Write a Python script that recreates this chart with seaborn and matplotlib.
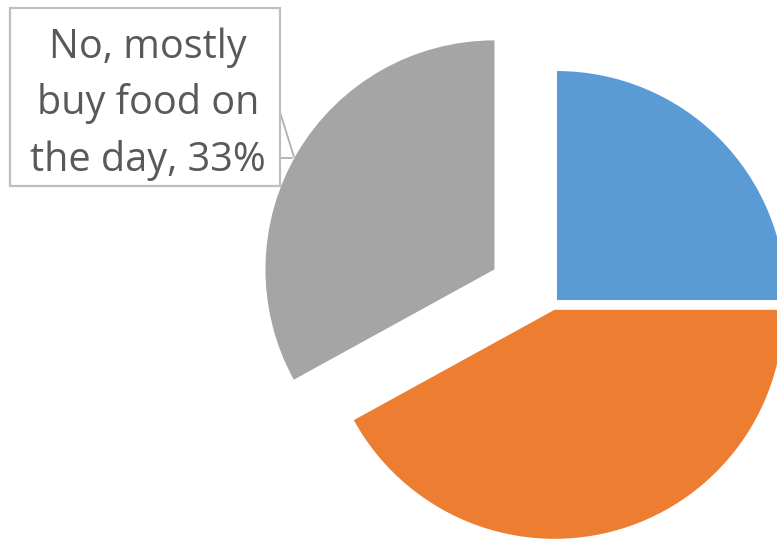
import matplotlib
matplotlib.use("Agg")
import matplotlib.pyplot as plt
from matplotlib.patches import Rectangle
import seaborn as sns

# Survey answers and their shares (%)
categories = ["Yes, plan meals ahead", "Sometimes plan ahead", "No, mostly buy food on the day"]
shares = [25, 42, 33]
slice_colors = ["#5B9BD5", "#ED7D31", "#A5A5A5"]

sns.set_theme(style="white")
plt.rcParams["font.family"] = ["Open Sans", "DejaVu Sans"]

W, H = 777, 543
fig = plt.figure(figsize=(W / 100, H / 100), dpi=100)
ax = fig.add_axes([0, 0, 1, 1])

# Pie laid out in pixel-like units; it runs past the right edge of the canvas
center = (553, H - 304)
radius = 229
explode = [5.6, 6, 68]

wedges, _ = ax.pie(
    shares,
    colors=slice_colors,
    startangle=90,
    counterclock=False,
    radius=radius,
    center=center,
    explode=explode,
    wedgeprops=dict(linewidth=0),
    frame=True,
)
ax.set_xlim(0, W)
ax.set_ylim(0, H)
ax.set_aspect("auto")
ax.axis("off")

# Callout for the grey slice
total = sum(shares)
label = categories[2].replace("mostly ", "mostly\n").replace(" on the", " on\nthe")
label = f"{label}, {shares[2] / total * 100:.0f}%"

box = Rectangle((10, H - 186), 270, 178, facecolor="white",
                edgecolor="#BFBFBF", linewidth=1.6, zorder=3)
ax.add_patch(box)
ax.text(148, H - 104, label, ha="center", va="center", fontsize=28.5,
        color="#595959", linespacing=1.5, zorder=4)

# Leader line from the callout to the slice
ax.plot([280, 294], [H - 112, H - 157], color="#B0B0B0", lw=1.3, zorder=2)
ax.plot([280, 292], [H - 158, H - 158], color="#B0B0B0", lw=1.3, zorder=2)

fig.savefig("out.png", dpi=100)
